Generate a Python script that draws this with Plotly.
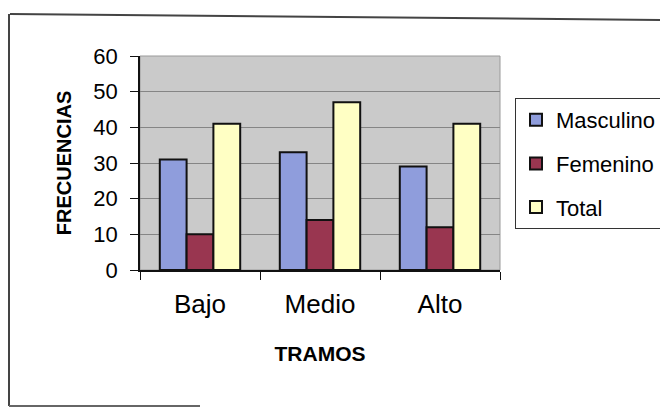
import plotly.graph_objects as go

categories = ["Bajo", "Medio", "Alto"]
masculino = [31, 33, 29]
femenino = [10, 14, 12]
total = [41, 47, 41]
y_ticks = [0, 10, 20, 30, 40, 50, 60]

series = [
    ("Masculino", masculino, "#8f9ddc"),
    ("Femenino", femenino, "#993650"),
    ("Total", total, "#ffffc4"),
]

fig = go.Figure()
for name, vals, col in series:
    fig.add_trace(go.Bar(
        x=categories, y=vals, name=name, legendgroup=name,
        marker=dict(color=col, line=dict(color="#111111", width=2)),
    ))

# page has an 8px body margin; design in page coordinates and shift
OFF = 8
W, H = 668 - OFF, 410 - OFF
L, R, T, B = 140 - OFF, 668 - 500, 56 - OFF, 410 - 270
pw, ph = W - L - R, H - T - B

def px(x):
    return (x - OFF - L) / pw

def py(y):
    return (H - B - (y - OFF)) / ph

fig.update_layout(
    width=W, height=H,
    margin=dict(l=L, r=R, t=T, b=B, pad=0, autoexpand=False),
    paper_bgcolor="white",
    plot_bgcolor="#cacaca",
    barmode="group",
    bargap=0.33,
    bargroupgap=0,
    font=dict(family="Liberation Sans, Arial", color="#000000"),
    legend=dict(
        x=px(515), y=py(98), xanchor="left", yanchor="top",
        bordercolor="#333333", borderwidth=1, bgcolor="white",
        font=dict(size=22, color="#000000"),
        tracegroupgap=12, itemwidth=30,
    ),
    xaxis=dict(
        tickson="boundaries", ticks="outside", ticklen=8, tickcolor="#111111",
        showline=True, linecolor="#111111", linewidth=1.5,
        showgrid=False, tickfont=dict(size=26), ticklabelstandoff=10,
        title=dict(text="<b>TRAMOS</b>", font=dict(size=21), standoff=28),
        automargin=False,
    ),
    yaxis=dict(
        range=[0, 60], tickvals=y_ticks, ticks="outside", ticklen=8,
        tickcolor="#111111", showline=True, linecolor="#111111", linewidth=1.5,
        showgrid=True, gridcolor="#858585", gridwidth=1,
        tickfont=dict(size=22), ticklabelstandoff=8,
        title=dict(text="<b>FRECUENCIAS</b>", font=dict(size=20), standoff=16),
        zeroline=False, automargin=False,
    ),
    shapes=[
        dict(type="rect", xref="paper", yref="paper", x0=0, x1=1, y0=0, y1=1,
             line=dict(color="#9a9a9a", width=1), layer="below"),
        dict(type="line", xref="paper", yref="paper", x0=px(10), x1=px(668),
             y0=py(14), y1=py(20), line=dict(color="#444444", width=2)),
        dict(type="line", xref="paper", yref="paper", x0=px(9), x1=px(9),
             y0=py(14), y1=py(406), line=dict(color="#444444", width=2)),
        dict(type="line", xref="paper", yref="paper", x0=px(9), x1=px(200),
             y0=py(406), y1=py(406), line=dict(color="#666666", width=2)),
    ],
)

fig.write_html("out.html")
